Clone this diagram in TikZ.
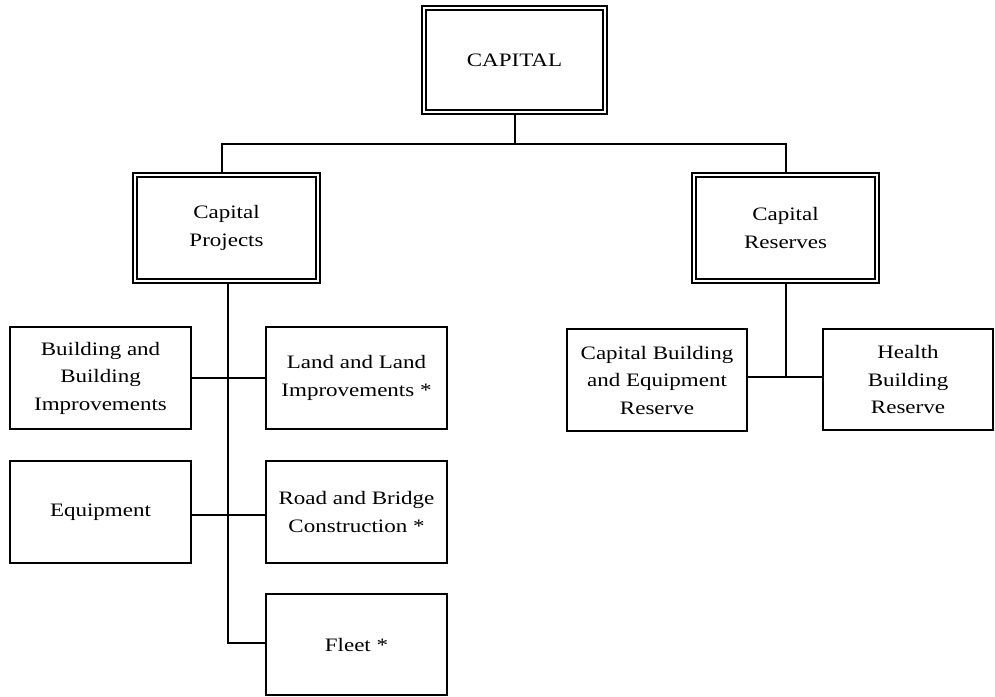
\documentclass[tikz,border=0pt]{standalone}
\usepackage{fontspec}
\setmainfont{Liberation Serif}[FakeStretch=1.21]
\newcommand{\chartfont}{\fontsize{19}{27.5}\selectfont}
\tikzset{
  box/.style={draw, line width=2pt, inner sep=0pt, align=center, font=\chartfont},
  dbox/.style={draw, double, line width=2.3pt, double distance=1.4pt, inner sep=0pt, align=center, font=\chartfont},
  conn/.style={line width=2pt}
}
\begin{document}
\begin{tikzpicture}[x=1pt,y=-1pt]
\useasboundingbox (0,0) rectangle (995,696);
% top level
\node[dbox, minimum width=181pt, minimum height=104pt] (cap) at (514.5,60) {CAPITAL};
\node[dbox, minimum width=183pt, minimum height=106pt] (cp) at (226.5,228) {Capital\\Projects};
\node[dbox, minimum width=183pt, minimum height=106pt] (cr) at (785.5,228) {Capital\\Reserves};
% projects children
\node[box, minimum width=181pt, minimum height=102pt] (bb) at (100.5,378) {Building and\\Building\\Improvements};
\node[box, minimum width=181pt, minimum height=102pt] (land) at (356.5,378) {Land and Land\\Improvements *};
\node[box, minimum width=181pt, minimum height=102pt] (eq) at (100.5,512) {Equipment};
\node[box, minimum width=181pt, minimum height=102pt] (road) at (356.5,512) {Road and Bridge\\Construction *};
\node[box, minimum width=181pt, minimum height=101pt] (fleet) at (356.5,644.5) {Fleet *};
% reserves children
\node[box, minimum width=180pt, minimum height=102pt] (cber) at (657,380) {Capital Building\\and Equipment\\Reserve};
\node[box, minimum width=170pt, minimum height=101pt] (hb) at (908,379.5) {Health\\Building\\Reserve};
% connectors
\coordinate (j1) at (514.5,144);
\coordinate (j2) at (786,377);
\draw[conn] (cap.south) -- (j1);
\draw[conn] ([xshift=-4.5pt]cp.north) |- (j1) -| ([xshift=0.5pt]cr.north);
\draw[conn] ([xshift=1.5pt]cp.south) |- ([yshift=1.5pt]fleet.west);
\draw[conn] (bb.east) -- (land.west);
\draw[conn] ([yshift=-3pt]eq.east) -- ([yshift=-3pt]road.west);
\draw[conn] ([xshift=0.5pt]cr.south) -- (j2);
\draw[conn] (cber.east |- j2) -- (hb.west |- j2);
\end{tikzpicture}
\end{document}
